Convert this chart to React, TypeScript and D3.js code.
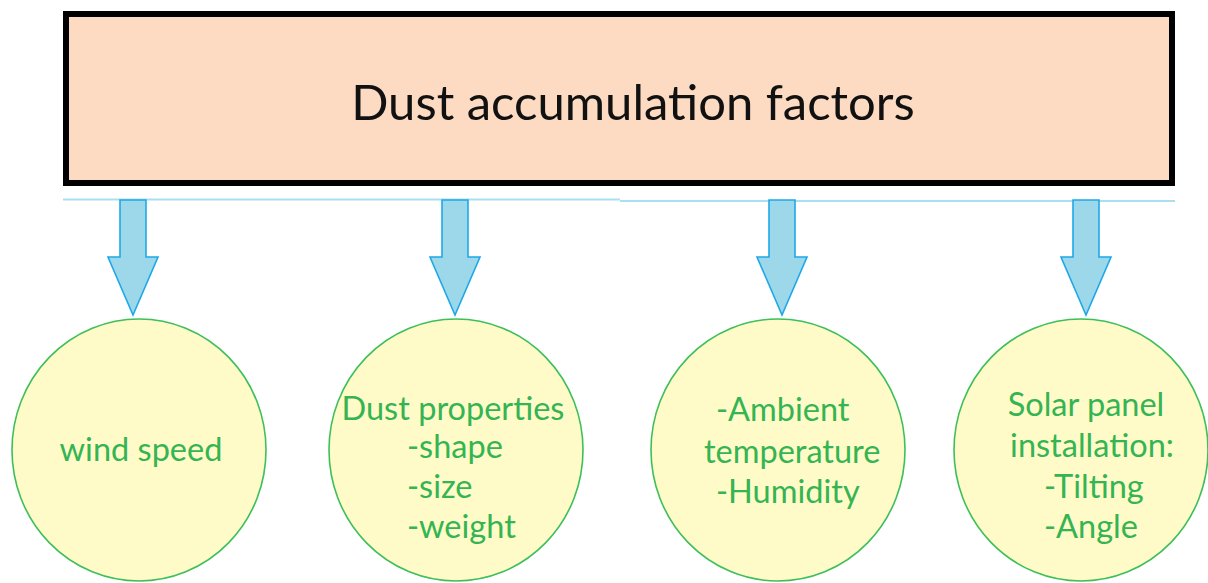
import * as d3 from 'd3';
import { useEffect, useRef } from 'react';

const title = 'Dust accumulation factors';
const factors = ['wind', 'dust', 'ambient', 'panel'];
const factorLines = [
  ['wind speed'],
  ['Dust properties', '-shape', '-size', '-weight'],
  ['-Ambient', 'temperature', '-Humidity'],
  ['Solar panel', 'installation:', '-Tilting', '-Angle'],
];

// layout of the diagram (pixel positions, not data)
const circleX = [139, 456, 778, 1081];
const arrowX = [133, 455, 782, 1086];
const lineLayout = [
  [{ x: 141, y: 461, anchor: 'middle' }],
  [
    { x: 453, y: 420, anchor: 'middle' },
    { x: 407, y: 458, anchor: 'start' },
    { x: 407, y: 498, anchor: 'start' },
    { x: 407, y: 538, anchor: 'start' },
  ],
  [
    { x: 716, y: 421, anchor: 'start' },
    { x: 704, y: 463, anchor: 'start' },
    { x: 716, y: 503, anchor: 'start' },
  ],
  [
    { x: 1086, y: 416, anchor: 'middle' },
    { x: 1092, y: 457, anchor: 'middle' },
    { x: 1044, y: 498, anchor: 'start' },
    { x: 1044, y: 538, anchor: 'start' },
  ],
];

const App = () => {
  const svgRef = useRef<SVGSVGElement>(null);

  useEffect(() => {
    const svg = d3.select(svgRef.current);
    svg.selectAll('*').remove();

    const font = 'Lato, "Open Sans", sans-serif';

    // header box
    svg.append('rect')
      .attr('x', 66)
      .attr('y', 14)
      .attr('width', 1106)
      .attr('height', 169)
      .style('fill', '#fddbc3')
      .style('stroke', '#000')
      .style('stroke-width', 6);

    svg.append('text')
      .attr('x', 633)
      .attr('y', 120)
      .attr('text-anchor', 'middle')
      .style('font-family', font)
      .style('font-size', '49px')
      .style('fill', '#111')
      .text(title);

    // thin connector line under the box
    const seg = [
      [[63, 199.5], [620, 199.5]],
      [[620, 201], [1175, 201]],
    ];
    svg.selectAll('.conn')
      .data(seg)
      .enter()
      .append('path')
      .attr('class', 'conn')
      .attr('d', d => d3.line()(d as [number, number][]))
      .style('stroke', '#a9dff0')
      .style('stroke-width', 2)
      .style('fill', 'none');

    // arrows
    const shaftW = 13, headW = 25, top = 200, headTop = 257, tip = 315;
    svg.selectAll('.arrow')
      .data(factors)
      .enter()
      .append('path')
      .attr('class', 'arrow')
      .attr('d', (d, i) => {
        const cx = arrowX[i];
        const pts: [number, number][] = [
          [cx - shaftW, top],
          [cx + shaftW, top],
          [cx + shaftW, headTop],
          [cx + headW, headTop],
          [cx, tip],
          [cx - headW, headTop],
          [cx - shaftW, headTop],
        ];
        return d3.line()(pts) + 'Z';
      })
      .style('fill', '#9dd8ea')
      .style('stroke', '#1ea8e8')
      .style('stroke-width', 1.6)
      .style('stroke-linejoin', 'miter');

    // circles
    svg.selectAll('.node')
      .data(factors)
      .enter()
      .append('ellipse')
      .attr('class', 'node')
      .attr('cx', (d, i) => circleX[i])
      .attr('cy', 450)
      .attr('rx', 127)
      .attr('ry', 131)
      .style('fill', '#fffbc8')
      .style('stroke', '#3dbf5a')
      .style('stroke-width', 1.6);

    // labels
    factorLines.forEach((lines, i) => {
      svg.selectAll(`.lbl-${factors[i]}`)
        .data(lines)
        .enter()
        .append('text')
        .attr('class', `lbl-${factors[i]}`)
        .attr('x', (d, j) => lineLayout[i][j].x)
        .attr('y', (d, j) => lineLayout[i][j].y)
        .attr('text-anchor', (d, j) => lineLayout[i][j].anchor)
        .style('font-family', font)
        .style('font-size', '32.5px')
        .style('fill', '#34b452')
        .text(d => d);
    });
  }, []);

  return (
    <svg ref={svgRef} width={1208} height={583}
      style={{ position: 'absolute', left: 0, top: 0, background: '#fff' }}></svg>
  );
};

export default App;
